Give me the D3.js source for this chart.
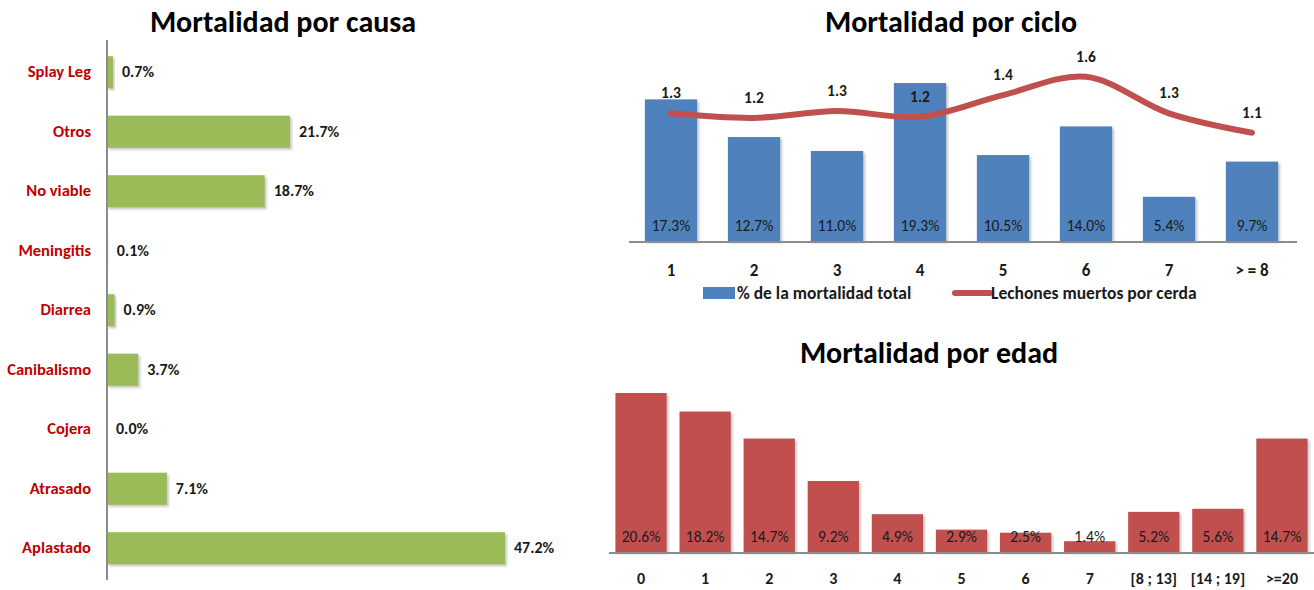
<!DOCTYPE html>
<html>
<head>
<meta charset="utf-8">
<script src="https://cdn.jsdelivr.net/npm/d3@7"></script>
<style>
  body { margin: 0; background: #fff; }
  svg text { font-family: Carlito, Lato, "Liberation Sans", sans-serif; }
</style>
</head>
<body>
<div id="chart"></div>
<script>
// Mortalidad por causa
const causas = ["Splay Leg", "Otros", "No viable", "Meningitis", "Diarrea", "Canibalismo", "Cojera", "Atrasado", "Aplastado"];
const causaPct = [0.7, 21.7, 18.7, 0.1, 0.9, 3.7, 0.0, 7.1, 47.2];

// Mortalidad por ciclo
const ciclos = ["1", "2", "3", "4", "5", "6", "7", "> = 8"];
const cicloPct = [17.3, 12.7, 11.0, 19.3, 10.5, 14.0, 5.4, 9.7];
const lechonesPorCerda = [1.27, 1.23, 1.29, 1.24, 1.43, 1.59, 1.27, 1.10];

// Mortalidad por edad
const edades = ["0", "1", "2", "3", "4", "5", "6", "7", "[8 ; 13]", "[14 ; 19]", ">=20"];
const edadPct = [20.6, 18.2, 14.7, 9.2, 4.9, 2.9, 2.5, 1.4, 5.2, 5.6, 14.7];

const green = "#9bbb59", blue = "#4f81bd", red = "#c0504d";

const svg = d3.select("#chart").append("svg")
  .attr("width", 1314).attr("height", 590);

// ombre légère sous les barres
const defs = svg.append("defs");
defs.append("filter").attr("id", "shadow")
  .attr("x", "-10%").attr("y", "-10%").attr("width", "130%").attr("height", "130%")
  .append("feDropShadow")
  .attr("dx", 2).attr("dy", 2).attr("stdDeviation", 1.2)
  .attr("flood-color", "#888").attr("flood-opacity", 0.45);

function title(txt, x, y) {
  svg.append("text").attr("x", x).attr("y", y)
    .attr("text-anchor", "middle")
    .style("font-size", "30px").style("font-weight", "bold")
    .text(txt);
}

// ---------- Gauche : par causa ----------
title("Mortalidad por causa", 283, 32);

const xC = d3.scaleLinear().domain([0, 47.2]).range([107, 505]);
const yC = d3.scaleBand().domain(causas).range([42.5, 578]).paddingInner(0.46).paddingOuter(0.23);

const gC = svg.append("g");
gC.selectAll("rect").data(causas).join("rect")
  .attr("x", xC(0))
  .attr("y", d => yC(d))
  .attr("width", (d, i) => xC(causaPct[i]) - xC(0))
  .attr("height", yC.bandwidth())
  .attr("fill", green)
  .attr("filter", "url(#shadow)");

gC.append("line")
  .attr("x1", xC(0)).attr("x2", xC(0))
  .attr("y1", 40).attr("y2", 580)
  .attr("stroke", "#8c8c8c").attr("stroke-width", 2);

gC.selectAll(".cat").data(causas).join("text")
  .attr("class", "cat")
  .attr("x", 91)
  .attr("y", d => yC(d) + yC.bandwidth() / 2 + 5)
  .attr("text-anchor", "end")
  .style("font-size", "16.5px").style("font-weight", "bold")
  .attr("fill", "#c00000")
  .text(d => d);

gC.selectAll(".val").data(causas).join("text")
  .attr("class", "val")
  .attr("x", (d, i) => xC(causaPct[i]) + 9)
  .attr("y", d => yC(d) + yC.bandwidth() / 2 + 5)
  .style("font-size", "16px").style("font-weight", "bold")
  .attr("fill", "#1a1a1a")
  .text((d, i) => causaPct[i].toFixed(1) + "%");

// ---------- Haut droite : por ciclo ----------
title("Mortalidad por ciclo", 951, 32);

const base1 = 241;
const xCi = d3.scaleBand().domain(ciclos).range([629.5, 1293.5]).paddingInner(0.37).paddingOuter(0.185);
const yCi = d3.scaleLinear().domain([0, 19.3]).range([base1, 83]);
const y2 = d3.scaleLinear().domain([0.15, 1.8]).range([base1, base1 - 1.65 * 114]);

const gCi = svg.append("g");
gCi.selectAll("rect").data(ciclos).join("rect")
  .attr("x", d => xCi(d))
  .attr("y", (d, i) => yCi(cicloPct[i]))
  .attr("width", xCi.bandwidth())
  .attr("height", (d, i) => base1 - yCi(cicloPct[i]))
  .attr("fill", blue)
  .attr("filter", "url(#shadow)");

gCi.append("line")
  .attr("x1", 629).attr("x2", 1297)
  .attr("y1", base1 + 1).attr("y2", base1 + 1)
  .attr("stroke", "#8c8c8c").attr("stroke-width", 2);

gCi.selectAll(".val").data(ciclos).join("text")
  .attr("class", "val")
  .attr("x", d => xCi(d) + xCi.bandwidth() / 2)
  .attr("y", base1 - 10)
  .attr("text-anchor", "middle")
  .style("font-size", "15.5px")
  .attr("fill", "#1a1a1a")
  .text((d, i) => cicloPct[i].toFixed(1) + "%");

gCi.append("g")
  .attr("transform", `translate(0,${base1})`)
  .call(d3.axisBottom(xCi).tickSize(0).tickPadding(23))
  .call(g => g.select(".domain").remove())
  .selectAll("text")
  .style("font-size", "17px").style("font-weight", "bold")
  .attr("fill", "#1a1a1a");

const line = d3.line()
  .x((d, i) => xCi(ciclos[i]) + xCi.bandwidth() / 2)
  .y(d => y2(d))
  .curve(d3.curveCatmullRom);

gCi.append("path")
  .datum(lechonesPorCerda)
  .attr("d", line)
  .attr("fill", "none")
  .attr("stroke", red)
  .attr("stroke-width", 6)
  .attr("stroke-linecap", "round");

gCi.selectAll(".lv").data(lechonesPorCerda).join("text")
  .attr("class", "lv")
  .attr("x", (d, i) => xCi(ciclos[i]) + xCi.bandwidth() / 2)
  .attr("y", d => y2(d) - 15)
  .attr("text-anchor", "middle")
  .style("font-size", "15.5px").style("font-weight", "bold")
  .attr("fill", "#1a1a1a")
  .text(d => d.toFixed(1));

// légende
const leg = svg.append("g");
leg.append("rect").attr("x", 703).attr("y", 287).attr("width", 32).attr("height", 12).attr("fill", blue);
leg.append("text").attr("x", 737).attr("y", 299)
  .style("font-size", "17.5px").style("font-weight", "bold").attr("fill", "#1a1a1a")
  .text("% de la mortalidad total");
leg.append("line").attr("x1", 955).attr("x2", 990).attr("y1", 293).attr("y2", 293)
  .attr("stroke", red).attr("stroke-width", 6).attr("stroke-linecap", "round");
leg.append("text").attr("x", 991).attr("y", 299)
  .style("font-size", "17.5px").style("font-weight", "bold").attr("fill", "#1a1a1a")
  .text("Lechones muertos por cerda");

// ---------- Bas droite : por edad ----------
title("Mortalidad por edad", 929, 363);

const base2 = 552;
const xE = d3.scaleBand().domain(edades).range([609, 1314]).paddingInner(0.2).paddingOuter(0.1);
const yE = d3.scaleLinear().domain([0, 20.6]).range([base2, 393]);

const gE = svg.append("g");
gE.selectAll("rect").data(edades).join("rect")
  .attr("x", d => xE(d))
  .attr("y", (d, i) => yE(edadPct[i]))
  .attr("width", xE.bandwidth())
  .attr("height", (d, i) => base2 - yE(edadPct[i]))
  .attr("fill", red)
  .attr("filter", "url(#shadow)");

gE.append("line")
  .attr("x1", 609).attr("x2", 1314)
  .attr("y1", base2 + 1).attr("y2", base2 + 1)
  .attr("stroke", "#8c8c8c").attr("stroke-width", 2);

gE.selectAll(".val").data(edades).join("text")
  .attr("class", "val")
  .attr("x", d => xE(d) + xE.bandwidth() / 2)
  .attr("y", base2 - 10)
  .attr("text-anchor", "middle")
  .style("font-size", "15.5px")
  .attr("fill", "#1a1a1a")
  .text((d, i) => edadPct[i].toFixed(1) + "%");

gE.append("g")
  .attr("transform", `translate(0,${base2})`)
  .call(d3.axisBottom(xE).tickSize(0).tickPadding(21))
  .call(g => g.select(".domain").remove())
  .selectAll("text")
  .style("font-size", "16px").style("font-weight", "bold")
  .attr("fill", "#1a1a1a");
</script>
</body>
</html>
